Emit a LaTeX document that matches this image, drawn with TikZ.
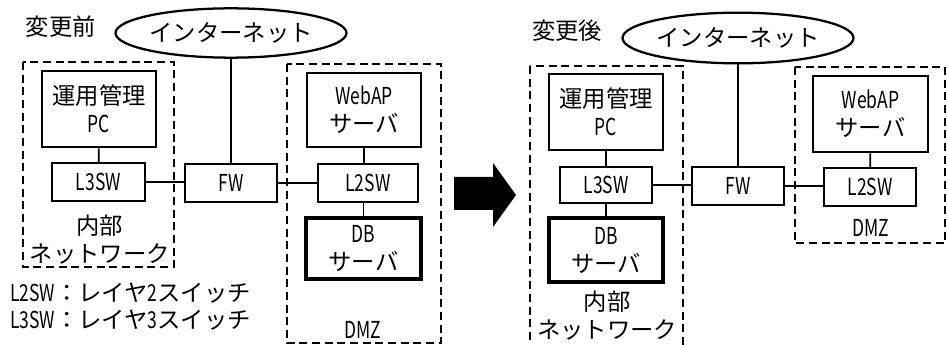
\documentclass[tikz,border=0pt]{standalone}
\usepackage{fontspec}
\setmainfont{Noto Sans CJK JP}
\newfontfamily\narrowfont[FakeStretch=0.75]{Noto Sans CJK JP}
\usetikzlibrary{positioning, shapes.geometric}

\newcommand{\hw}[1]{{\narrowfont #1}}

\tikzset{
	txt/.style={inner sep=0pt, align=center, font=\fontsize{17.5}{21}\selectfont},
	hostbox/.style={txt, draw, line width=2pt, minimum width=85.5pt, minimum height=57pt},
	swbox/.style={txt, draw, line width=1.5pt, minimum width=69pt, minimum height=28.5pt},
	dbbox/.style={txt, draw, line width=2.8pt, minimum width=85.5pt, minimum height=46.5pt},
	cloud/.style={txt, draw, ellipse, line width=1.7pt},
	zone/.style={draw, line width=2pt, dash pattern=on 6pt off 3.5pt},
	link/.style={line width=1.3pt}
}

\begin{document}
\begin{tikzpicture}[x=0.75pt, y=-0.75pt]
	\useasboundingbox (0,0) rectangle (947,345);
	
	% ====== before: zones ======
	\draw[zone] (23,62) rectangle (174,267);
	\draw[zone] (287,64) rectangle (441,343);
	
	% ====== before: nodes ======
	\node[txt] (titleA) at (61,27) {変更前};
	\node[cloud, minimum width=153.75pt, minimum height=37pt] (netA) at (231,33) {インターネット};
	\node[hostbox] (pcA) at (99,109) {運用管理\\\hw{PC}};
	\node[swbox, minimum width=69.75pt] (l3A) at (98.5,182) {\hw{L3SW}};
	\node[swbox] (fwA) at (231,183) {\hw{FW}};
	\node[hostbox, minimum height=55.5pt] (webA) at (364,110) {\hw{WebAP}\\サーバ};
	\node[swbox, minimum width=75pt] (l2A) at (368,183) {\hw{L2SW}};
	\node[dbbox, minimum width=86.25pt, minimum height=45.75pt] (dbA) at (363.5,248.5) {\hw{DB}\\サーバ};
	\node[txt] (lanA) at (100,240) {内部\\ネットワーク};
	\node[txt] (dmzA) at (363,330) {\hw{DMZ}};
	\node[txt, align=left, anchor=west, font=\fontsize{17.5}{20}\selectfont] (legend) at (10,306.5)
	{\hw{L2SW}：レイヤ\hw{2}スイッチ\\\hw{L3SW}：レイヤ\hw{3}スイッチ};
	
	% ====== before: links ======
	\draw[link] (netA) -- (fwA);
	\draw[link] (pcA) -- (l3A);
	\draw[link] (l3A.east) -- (l3A.east -| fwA.west);
	\draw[link] (fwA.east) -- (fwA.east -| l2A.west);
	\draw[link] (webA.south) -- (webA.south |- l2A.north);
	\draw[link] (l2A.south -| dbA.north) -- (dbA.north);
	
	% ====== arrow ======
	\fill (454,177) -- (493,177) -- (493,163) -- (516,195) -- (493,227) -- (493,210) -- (454,210) -- cycle;
	
	% ====== after: zones ======
	\draw[zone] (530,66) -- (530,345) (683,345) -- (683,66) -- (530,66);
	\draw[zone] (795,67) rectangle (945,243);
	
	% ====== after: nodes ======
	\node[txt] (titleB) at (567,31) {変更後};
	\node[cloud, minimum width=155.25pt, minimum height=38pt] (netB) at (738,38) {インターネット};
	\node[hostbox] (pcB) at (606,112) {運用管理\\\hw{PC}};
	\node[swbox, minimum height=27pt] (l3B) at (606,185) {\hw{L3SW}};
	\node[dbbox, minimum height=48pt] (dbB) at (606,250) {\hw{DB}\\サーバ};
	\node[swbox] (fwB) at (738,186) {\hw{FW}};
	\node[hostbox, minimum width=86.25pt] (webB) at (870.5,114) {\hw{WebAP}\\サーバ};
	\node[swbox] (l2B) at (870,187) {\hw{L2SW}};
	\node[txt] (lanB) at (607,316) {内部\\ネットワーク};
	\node[txt] (dmzB) at (871,228) {\hw{DMZ}};
	
	% ====== after: links ======
	\draw[link] (netB) -- (fwB);
	\draw[link] (pcB) -- (l3B);
	\draw[link] (l3B) -- (dbB);
	\draw[link] (l3B.east) -- (l3B.east -| fwB.west);
	\draw[link] (fwB.east) -- (fwB.east -| l2B.west);
	\draw[link] (webB) -- (l2B);
\end{tikzpicture}
\end{document}
